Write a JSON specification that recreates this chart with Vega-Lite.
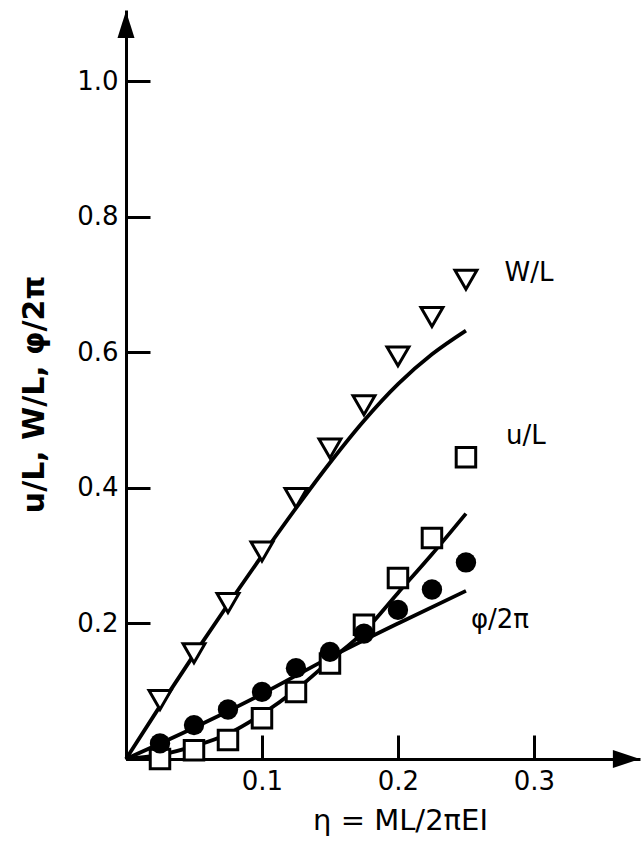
{
  "$schema": "https://vega.github.io/schema/vega-lite/v6.json",
  "autosize": "none",
  "width": 514,
  "height": 749,
  "padding": {"left": 126, "top": 10, "right": 3, "bottom": 84},
  "background": "white",
  "config": {"view": {"stroke": null}, "font": "DejaVu Sans"},
  "datasets": {
    "points": [
      {"series": "W", "eta": 0.025, "v": 0.087},
      {"series": "W", "eta": 0.05, "v": 0.156},
      {"series": "W", "eta": 0.075, "v": 0.230},
      {"series": "W", "eta": 0.1, "v": 0.306},
      {"series": "W", "eta": 0.125, "v": 0.385},
      {"series": "W", "eta": 0.15, "v": 0.458},
      {"series": "W", "eta": 0.175, "v": 0.522},
      {"series": "W", "eta": 0.2, "v": 0.594},
      {"series": "W", "eta": 0.225, "v": 0.652},
      {"series": "W", "eta": 0.25, "v": 0.707},
      {"series": "u", "eta": 0.025, "v": 0.0},
      {"series": "u", "eta": 0.05, "v": 0.013},
      {"series": "u", "eta": 0.075, "v": 0.028},
      {"series": "u", "eta": 0.1, "v": 0.060},
      {"series": "u", "eta": 0.125, "v": 0.099},
      {"series": "u", "eta": 0.15, "v": 0.141},
      {"series": "u", "eta": 0.175, "v": 0.198},
      {"series": "u", "eta": 0.2, "v": 0.267},
      {"series": "u", "eta": 0.225, "v": 0.326},
      {"series": "u", "eta": 0.25, "v": 0.445},
      {"series": "phi", "eta": 0.025, "v": 0.023},
      {"series": "phi", "eta": 0.05, "v": 0.050},
      {"series": "phi", "eta": 0.075, "v": 0.073},
      {"series": "phi", "eta": 0.1, "v": 0.099},
      {"series": "phi", "eta": 0.125, "v": 0.134},
      {"series": "phi", "eta": 0.15, "v": 0.158},
      {"series": "phi", "eta": 0.175, "v": 0.185},
      {"series": "phi", "eta": 0.2, "v": 0.220},
      {"series": "phi", "eta": 0.225, "v": 0.250},
      {"series": "phi", "eta": 0.25, "v": 0.290}
    ],
    "curves": [
      {"series": "W", "eta": 0, "v": 0},
      {"series": "W", "eta": 0.025, "v": 0.078},
      {"series": "W", "eta": 0.05, "v": 0.154},
      {"series": "W", "eta": 0.075, "v": 0.228},
      {"series": "W", "eta": 0.1, "v": 0.300},
      {"series": "W", "eta": 0.125, "v": 0.370},
      {"series": "W", "eta": 0.15, "v": 0.437},
      {"series": "W", "eta": 0.175, "v": 0.499},
      {"series": "W", "eta": 0.2, "v": 0.553},
      {"series": "W", "eta": 0.225, "v": 0.597},
      {"series": "W", "eta": 0.25, "v": 0.632},
      {"series": "u", "eta": 0, "v": 0},
      {"series": "u", "eta": 0.025, "v": 0.006},
      {"series": "u", "eta": 0.05, "v": 0.019},
      {"series": "u", "eta": 0.075, "v": 0.037},
      {"series": "u", "eta": 0.1, "v": 0.066},
      {"series": "u", "eta": 0.125, "v": 0.102},
      {"series": "u", "eta": 0.15, "v": 0.145},
      {"series": "u", "eta": 0.175, "v": 0.188},
      {"series": "u", "eta": 0.2, "v": 0.245},
      {"series": "u", "eta": 0.225, "v": 0.302},
      {"series": "u", "eta": 0.25, "v": 0.362},
      {"series": "phi", "eta": 0, "v": 0},
      {"series": "phi", "eta": 0.05, "v": 0.046},
      {"series": "phi", "eta": 0.1, "v": 0.096},
      {"series": "phi", "eta": 0.15, "v": 0.15},
      {"series": "phi", "eta": 0.2, "v": 0.2},
      {"series": "phi", "eta": 0.25, "v": 0.248}
    ],
    "labels": [
      {"label": "W/L", "eta": 0.2964, "v": 0.717},
      {"label": "u/L", "eta": 0.294, "v": 0.476},
      {"label": "φ/2π", "eta": 0.275, "v": 0.205}
    ],
    "arrows": [
      {"dir": "up", "eta": 0, "v": 1.0837},
      {"dir": "right", "eta": 0.368, "v": 0}
    ]
  },
  "encoding": {
    "x": {
      "field": "eta",
      "type": "quantitative",
      "scale": {"domain": [0, 0.378], "nice": false},
      "axis": {
        "title": "η = ML/2πEI",
        "values": [0.1, 0.2, 0.3],
        "format": ".1f",
        "grid": false,
        "domainColor": "black",
        "domainWidth": 3,
        "tickColor": "black",
        "tickWidth": 3,
        "tickSize": -24,
        "labelPadding": 33,
        "labelFont": "DejaVu Sans",
        "labelFontSize": 26,
        "labelColor": "black",
        "titleFont": "DejaVu Sans",
        "titleFontSize": 29,
        "titleFontWeight": "normal",
        "titleColor": "black",
        "titleX": 274,
        "titleY": 61,
        "titleAlign": "center",
        "titleBaseline": "middle"
      }
    },
    "y": {
      "field": "v",
      "type": "quantitative",
      "scale": {"domain": [0, 1.105], "nice": false},
      "axis": {
        "title": "u/L, W/L, φ/2π",
        "values": [0.2, 0.4, 0.6, 0.8, 1.0],
        "format": ".1f",
        "grid": false,
        "domainColor": "black",
        "domainWidth": 3,
        "tickColor": "black",
        "tickWidth": 3,
        "tickSize": -24,
        "labelPadding": 32,
        "labelFont": "DejaVu Sans",
        "labelFontSize": 26,
        "labelColor": "black",
        "titleFont": "DejaVu Sans",
        "titleFontSize": 30,
        "titleFontWeight": "bold",
        "titleColor": "black",
        "titleAngle": -90,
        "titleX": -92,
        "titleY": 384,
        "titleAlign": "center",
        "titleBaseline": "middle"
      }
    }
  },
  "layer": [
    {
      "data": {"name": "curves"},
      "mark": {"type": "line", "stroke": "black", "strokeWidth": 3.8, "interpolate": "monotone"},
      "encoding": {"detail": {"field": "series"}}
    },
    {
      "data": {"name": "points"},
      "transform": [{"filter": "datum.series == 'W'"}],
      "mark": {"type": "point", "shape": "triangle-down", "filled": true, "fill": "white", "stroke": "black", "strokeWidth": 3, "size": 480, "opacity": 1}
    },
    {
      "data": {"name": "points"},
      "transform": [{"filter": "datum.series == 'u'"}],
      "mark": {"type": "point", "shape": "square", "filled": true, "fill": "white", "stroke": "black", "strokeWidth": 3, "size": 380, "opacity": 1}
    },
    {
      "data": {"name": "points"},
      "transform": [{"filter": "datum.series == 'phi'"}],
      "mark": {"type": "circle", "color": "black", "size": 415, "opacity": 1}
    },
    {
      "data": {"name": "labels"},
      "mark": {"type": "text", "font": "DejaVu Sans", "fontSize": 26, "align": "center", "baseline": "middle", "color": "black"},
      "encoding": {"text": {"field": "label"}}
    },
    {
      "data": {"name": "arrows"},
      "transform": [{"filter": "datum.dir == 'up'"}],
      "mark": {"type": "point", "shape": "M0,-1L0.63,1L-0.63,1Z", "filled": true, "color": "black", "size": 729, "opacity": 1, "clip": false}
    },
    {
      "data": {"name": "arrows"},
      "transform": [{"filter": "datum.dir == 'right'"}],
      "mark": {"type": "point", "shape": "M1,0L-1,-0.67L-1,0.67Z", "filled": true, "color": "black", "size": 729, "opacity": 1, "clip": false}
    }
  ]
}
